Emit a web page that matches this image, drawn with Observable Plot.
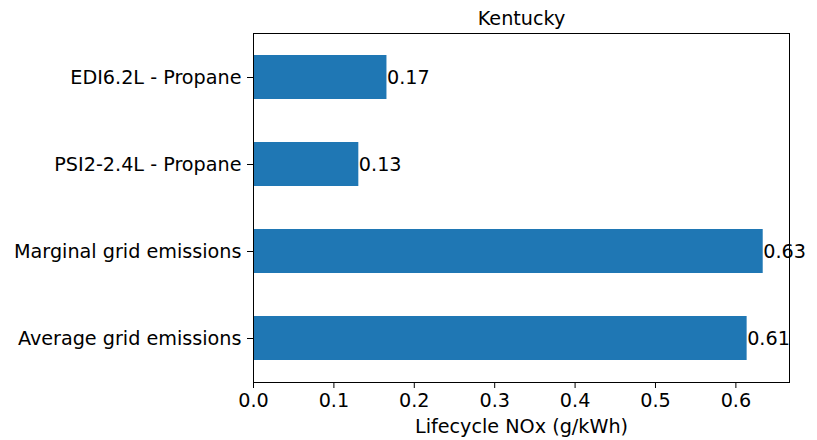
<!DOCTYPE html>
<html>
<head>
<meta charset="utf-8">
<script src="https://cdn.jsdelivr.net/npm/d3@7"></script>
<script src="https://cdn.jsdelivr.net/npm/@observablehq/plot@0.6"></script>
<style>
  html, body { margin: 0; padding: 0; background: #fff; }
  svg { font-family: "DejaVu Sans", sans-serif; }
</style>
</head>
<body>
<div id="chart"></div>
<script>
const title = "Kentucky";
const xLabel = "Lifecycle NOx (g/kWh)";
const categories = ["EDI6.2L - Propane", "PSI2-2.4L - Propane", "Marginal grid emissions", "Average grid emissions"];
const values = [0.166, 0.131, 0.634, 0.614];
const xTicks = [0, 0.1, 0.2, 0.3, 0.4, 0.5, 0.6];

const data = categories.map((c, i) => ({category: c, value: values[i]}));
const FS = 19.2;

const chart = Plot.plot({
  width: 817,
  height: 440,
  marginLeft: 253,
  marginRight: 28,
  marginTop: 33,
  marginBottom: 58,
  style: {fontFamily: "DejaVu Sans, sans-serif", fontSize: FS + "px", color: "#000", background: "#fff"},
  x: {domain: [0, 0.6667], ticks: xTicks, tickFormat: d3.format(".1f"), label: null},
  y: {domain: categories, paddingInner: 0.5, paddingOuter: 0.25, label: null},
  marks: [
    Plot.barX(data, {x: "value", y: "category", fill: "#1f77b4"}),
    Plot.text(data, {x: "value", y: "category", text: d => d3.format(".2f")(d.value), textAnchor: "start", dx: 0, fontSize: FS, fill: "#000"}),
    Plot.frame({stroke: "#000", strokeWidth: 1}),
    Plot.axisX({ticks: xTicks, tickFormat: d3.format(".1f"), tickSize: 6, tickPadding: 5, fontSize: FS, label: null, stroke: "#000"}),
    Plot.axisY({tickSize: 6, tickPadding: 6, fontSize: FS, label: null, stroke: "#000"}),
    Plot.text([title], {frameAnchor: "top", dy: -22, fontSize: FS, fill: "#000"}),
    Plot.text([xLabel], {frameAnchor: "bottom", dy: 50, fontSize: FS, fill: "#000"})
  ]
});
document.getElementById("chart").appendChild(chart);
</script>
</body>
</html>
